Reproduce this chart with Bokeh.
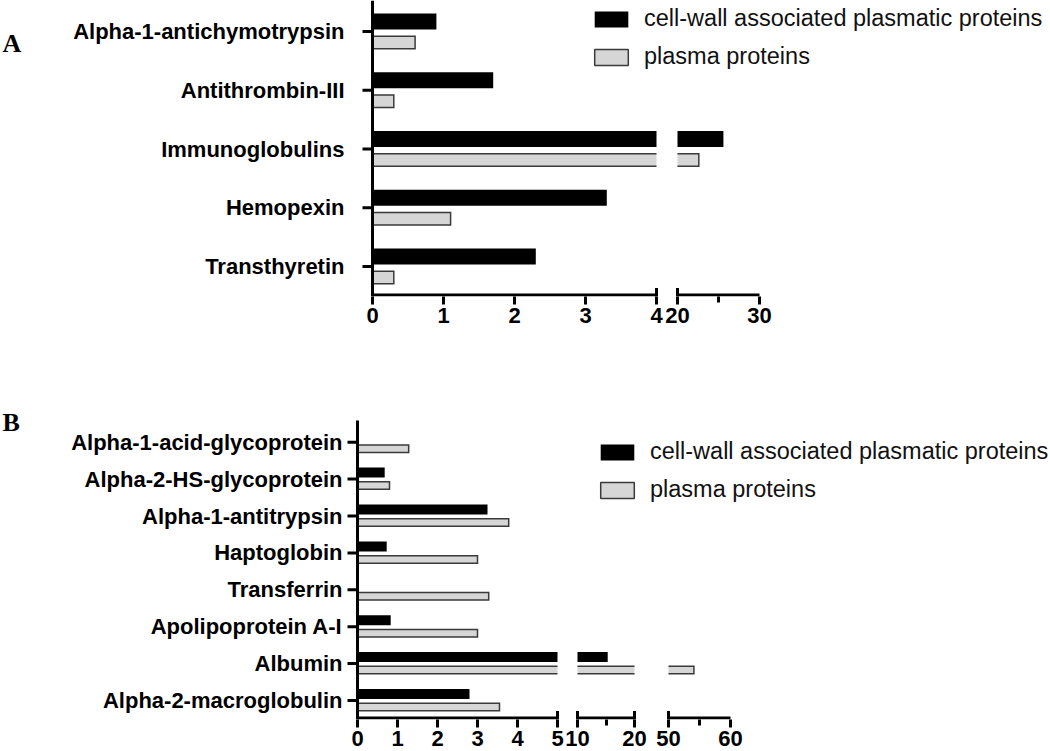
import math
from bokeh.plotting import figure
from bokeh.models import Range1d, FixedTicker, Legend, LegendItem
from bokeh.core.properties import value
from bokeh.layouts import column
from bokeh.embed import file_html
from bokeh.resources import INLINE

# ---------------- data ----------------
series_labels = ["cell-wall associated plasmatic proteins", "plasma proteins"]

a_categories = ["Alpha-1-antichymotrypsin", "Antithrombin-III", "Immunoglobulins",
                "Hemopexin", "Transthyretin"]
a_cellwall = [0.9, 1.7, 25.6, 3.3, 2.3]
a_plasma = [0.6, 0.3, 22.6, 1.1, 0.3]
a_segments = [(0, 4), (20, 30)]
a_major_ticks = [0, 1, 2, 3, 4, 20, 30]
a_minor_ticks = [25]

b_categories = ["Alpha-1-acid-glycoprotein", "Alpha-2-HS-glycoprotein", "Alpha-1-antitrypsin",
                "Haptoglobin", "Transferrin", "Apolipoprotein A-I", "Albumin",
                "Alpha-2-macroglobulin"]
b_cellwall = [0, 0.68, 3.25, 0.73, 0, 0.83, 15.3, 2.8]
b_plasma = [1.28, 0.8, 3.78, 3.0, 3.28, 3.0, 54.1, 3.55]
b_segments = [(0, 5), (10, 20), (50, 60)]
b_major_ticks = [0, 1, 2, 3, 4, 5, 10, 20, 50, 60]
b_minor_ticks = [15, 55]

# ---------------- style / layout ----------------
W = 1048
BLACK = "#000000"
GRAY_FILL = "#d6d6d6"
GRAY_LINE = "#3a3a3a"
FONT = "Liberation Sans"

LAYOUT_A = dict(origin=372, spans=[(0, 284), (305, 387)], spacing=58.75, top_pad=31, axis_top_pad=31,
                axis_below=28.5, height=380, label_gap=28, xstandoff=3,
                black_off=-10, black_h=16, gray_off=11, gray_h=12.5,
                legend_loc=(590, 226), letter="A", letter_x=2, letter_base=43)
LAYOUT_B = dict(origin=357, spans=[(0, 200), (220, 277), (311, 373)], spacing=36.9, top_pad=61.7,
                axis_top_pad=21.7, axis_below=17.5, height=371, label_gap=15, xstandoff=3,
                black_off=-6.5, black_h=10, gray_off=6.5, gray_h=7.5,
                legend_loc=(596, 216), letter="B", letter_x=2, letter_base=42)


def num(v):
    v = round(float(v), 3)
    return int(v) if v.is_integer() else v


def make_mapper(segments, spans):
    def to_disp(v):
        for (lo, hi), (d0, d1) in zip(segments, spans):
            if lo <= v <= hi:
                return num(d0 + (v - lo) * (d1 - d0) / (hi - lo))
        raise ValueError(v)
    return to_disp


def bar_pieces(v, segments, to_disp):
    pieces = []
    for k, (lo, hi) in enumerate(segments):
        if v <= lo:
            break
        r = min(v, hi)
        pieces.append((to_disp(lo), to_disp(r), k == 0, v <= hi))
        if v <= hi:
            break
    return pieces


def build_panel(cats, cw, pl, segments, majors, minors, L):
    n = len(cats)
    s = L["spacing"]
    to_disp = make_mapper(segments, L["spans"])
    y_end = -L["top_pad"] / s
    y_axis_top = -L["axis_top_pad"] / s
    axis_y = (n - 1) + L["axis_below"] / s
    y_start = axis_y + 1.5 / s
    frame_h = round((y_start - y_end) * s)
    o = L["origin"]

    p = figure(width=W, height=L["height"], title=None,
               x_range=Range1d(-o, W - o), y_range=Range1d(y_start, y_end),
               output_backend="svg", toolbar_location=None, y_axis_type=None,
               min_border_left=0, min_border_right=0, min_border_top=0,
               min_border_bottom=L["height"] - frame_h)
    p.outline_line_color = None
    p.grid.visible = False
    p.background_fill_color = "white"
    p.border_fill_color = "white"

    # black bars
    bl, br, bt, bb = [], [], [], []
    for i, v in enumerate(cw):
        c = i + L["black_off"] / s
        h = L["black_h"] / s
        for x0, x1, first, last in bar_pieces(v, segments, to_disp):
            bl.append(x0); br.append(x1); bt.append(c - h / 2); bb.append(c + h / 2)
    black_r = p.quad(left=bl, right=br, top=bt, bottom=bb, fill_color=BLACK, line_color=None)

    # gray bars: fill + outline (open at axis breaks)
    gl, gr, gt, gb, oxs, oys = [], [], [], [], [], []
    for i, v in enumerate(pl):
        c = i + L["gray_off"] / s
        h = L["gray_h"] / s
        yt, yb = c - h / 2, c + h / 2
        for x0, x1, first, last in bar_pieces(v, segments, to_disp):
            gl.append(x0); gr.append(x1); gt.append(yt); gb.append(yb)
            if first and last:
                xs, ys = [x0, x1, x1, x0, x0], [yt, yt, yb, yb, yt]
            elif first:
                xs, ys = [x1, x0, x0, x1], [yt, yt, yb, yb]
            elif last:
                xs, ys = [x0, x1, x1, x0], [yt, yt, yb, yb]
            else:
                xs, ys = [x0, x1, math.nan, x0, x1], [yt, yt, math.nan, yb, yb]
            oxs.append(xs); oys.append(ys)
    p.quad(left=gl, right=gr, top=gt, bottom=gb, fill_color=GRAY_FILL, line_color=None)
    p.multi_line(xs=oxs, ys=oys, line_color=GRAY_LINE, line_width=1.5, line_join="miter")

    # y axis (line, ticks, category labels)
    p.segment(x0=[0], x1=[0], y0=[y_axis_top], y1=[y_start], line_width=3, line_color=BLACK)
    cat_pos = list(range(n))
    p.segment(x0=[-10] * n, x1=[0] * n, y0=cat_pos, y1=cat_pos, line_width=3, line_color=BLACK)
    p.text(x=[-L["label_gap"]] * n, y=cat_pos, text=cats, text_align="right", text_baseline="middle",
           text_font=value(FONT), text_font_style="bold", text_font_size="22px", text_color=BLACK)

    # broken x axis line
    p.segment(x0=[to_disp(lo) for lo, hi in segments], x1=[to_disp(hi) for lo, hi in segments],
              y0=axis_y, y1=axis_y, line_width=3, line_color=BLACK)
    caps = []
    for k in range(len(segments) - 1):
        caps += [to_disp(segments[k][1]), to_disp(segments[k + 1][0])]
    p.segment(x0=caps, x1=caps, y0=axis_y - 7 / s, y1=y_start, line_width=3, line_color=BLACK)

    xa = p.xaxis[0]
    xa.ticker = FixedTicker(ticks=[to_disp(t) for t in majors], minor_ticks=[to_disp(t) for t in minors])
    xa.major_label_overrides = {to_disp(t): str(t) for t in majors}
    xa.axis_line_color = None
    xa.major_tick_line_width = 3
    xa.major_tick_line_color = BLACK
    xa.major_tick_out = 8
    xa.major_tick_in = 0
    xa.minor_tick_line_width = 3
    xa.minor_tick_line_color = BLACK
    xa.minor_tick_out = 6
    xa.minor_tick_in = 0
    xa.major_label_text_font = FONT
    xa.major_label_text_font_style = "bold"
    xa.major_label_text_font_size = "22px"
    xa.major_label_text_color = BLACK
    xa.major_label_standoff = L["xstandoff"]

    # legend
    gray_dummy = p.quad(left=[math.nan], right=[math.nan], top=[math.nan], bottom=[math.nan],
                        fill_color=GRAY_FILL, line_color=GRAY_LINE, line_width=1.5)
    legend = Legend(items=[LegendItem(label=series_labels[0], renderers=[black_r]),
                           LegendItem(label=series_labels[1], renderers=[gray_dummy])],
                    location=L["legend_loc"], orientation="vertical",
                    glyph_width=42, glyph_height=20, label_standoff=12, spacing=11,
                    padding=0, margin=0, border_line_color=None, background_fill_alpha=0,
                    label_text_font=FONT, label_text_font_size="23.5px", label_text_color="#111111",
                    label_height=26)
    p.add_layout(legend)

    # panel letter
    p.text(x=[L["letter_x"] - o], y=[y_end + L["letter_base"] / s], text=[L["letter"]],
           text_align="left", text_baseline="alphabetic",
           text_font=value("Liberation Serif"), text_font_style="bold", text_font_size="26px",
           text_color=BLACK)
    return p


pA = build_panel(a_categories, a_cellwall, a_plasma, a_segments, a_major_ticks, a_minor_ticks, LAYOUT_A)
pB = build_panel(b_categories, b_cellwall, b_plasma, b_segments, b_major_ticks, b_minor_ticks, LAYOUT_B)

layout = column(pA, pB, spacing=0)
open("out.html", "w").write(file_html(layout, INLINE))
